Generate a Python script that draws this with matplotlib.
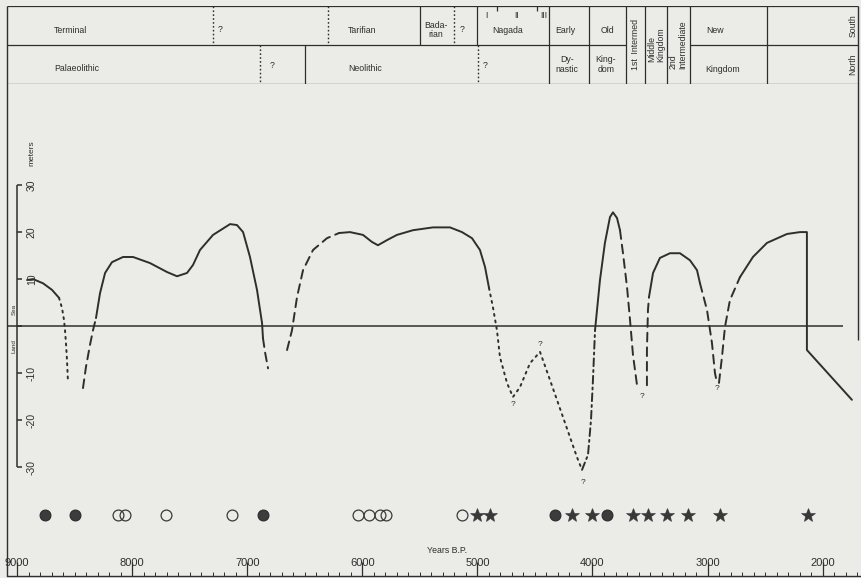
"""Holocene sea-level curve with the Nile valley chronology header."""

import matplotlib

matplotlib.use("Agg")

import matplotlib.pyplot as plt
from matplotlib.ticker import FixedLocator

plt.rcParams["font.family"] = ["Liberation Sans", "DejaVu Sans"]

INK = "#2e2e2e"
PAPER = "#ebebe8"

# ---- sea-level curve, years B.P. against meters, one list pair per stroke ----
seg01_years = [8913, 8861, 8774, 8696, 8635]
seg01_level = [9.8, 10.0, 9.1, 7.7, 6.0]
seg02_years = [8635, 8609, 8592, 8583, 8574, 8566, 8557]
seg02_level = [6.0, 3.8, 1.3, -0.9, -4.0, -7.2, -12.1]
seg03_years = [8427, 8401, 8366, 8340, 8314]
seg03_level = [-13.2, -8.7, -4.0, -0.9, 1.7]
seg04_years = [8314, 8279, 8235, 8175, 8079, 7992, 7844, 7697, 7610, 7523,
               7471, 7410, 7297, 7149, 7089, 7036, 6976, 6915, 6871, 6863]
seg04_level = [1.7, 7.0, 11.3, 13.6, 14.7, 14.7, 13.4, 11.5, 10.6, 11.3,
               13.0, 16.2, 19.4, 21.7, 21.5, 20.0, 14.7, 7.7, 0.6, -2.6]
seg05_years = [6863, 6845, 6819]
seg05_level = [-2.6, -5.6, -9.0]
seg06_years = [6654, 6611, 6567, 6515, 6428, 6307, 6202]
seg06_level = [-5.1, -0.9, 6.2, 11.9, 16.2, 18.7, 19.8]
seg07_years = [6202, 6107, 5994, 5916, 5864, 5785, 5699, 5560, 5386, 5238,
               5134, 5047, 4978, 4934, 4899]
seg07_level = [19.8, 20.0, 19.4, 17.9, 17.2, 18.3, 19.4, 20.4, 21.0, 21.0,
               20.0, 18.7, 16.2, 12.6, 8.1]
seg08_years = [4899, 4865, 4830, 4804, 4743, 4691, 4630, 4543, 4456, 4369,
               4256, 4135, 4091]
seg08_level = [8.1, 4.0, -0.9, -6.6, -12.1, -15.1, -13.0, -7.9, -5.5, -11.5,
               -19.4, -27.9, -30.6]
seg09_years = [4091, 4039, 4013, 3996, 3978]
seg09_level = [-30.6, -27.4, -20.0, -11.5, -0.9]
seg10_years = [3978, 3935, 3892, 3848, 3822, 3787, 3761]
seg10_level = [-0.9, 9.8, 17.7, 23.2, 24.2, 23.0, 20.4]
seg11_years = [3761, 3735, 3700, 3674, 3648, 3613]
seg11_level = [20.4, 15.5, 8.3, 1.3, -6.2, -12.6]
seg12_years = [3527, 3527, 3518, 3509]
seg12_level = [-12.6, -5.1, 3.4, 6.2]
seg13_years = [3509, 3474, 3414, 3327, 3240, 3153, 3092, 3066]
seg13_level = [6.2, 11.3, 14.5, 15.5, 15.5, 14.0, 11.9, 9.1]
seg14_years = [3066, 3005, 2962, 2936, 2918]
seg14_level = [9.1, 3.4, -3.6, -10.0, -12.1]
seg15_years = [2901, 2875, 2849, 2806, 2719]
seg15_level = [-12.1, -6.6, -0.2, 5.5, 10.4]
seg16_years = [2719, 2606, 2484, 2310, 2197, 2137, 2137, 1746]
seg16_level = [10.4, 14.7, 17.7, 19.6, 20.0, 20.0, -5.1, -15.7]

query_years = [4691, 4456, 4083, 3570, 2918]
query_level = [-16.8, -4.0, -33.4, -15.1, -13.2]

# ---- dated sites along the bottom ----
filled_circle_years = [8760, 8500, 6860, 4330, 3870]
open_circle_years = [8120, 8060, 7710, 7130, 6040, 5940, 5850, 5790, 5130]
star_years = [5000, 4890, 4180, 4000, 3650, 3520, 3350, 3170, 2890, 2130]

# ---- chronology header ----
boundary_full = [4380, 4030, 3710, 3545, 3355, 3155, 2480]
boundary_top_solid = [5500, 5000]
boundary_top_dotted = [7300, 6300, 5200]
boundary_bottom_solid = [6500]
boundary_bottom_dotted = [6890, 4995]
nagada_tick_years = [4830, 4482]

header_text = ["Terminal", "?", "Tarifian", "Bada-\nrian", "?", "Nagada",
               "I", "II", "III", "Early", "Old", "New", "South",
               "Palaeolithic", "?", "Neolithic", "?", "Dy-\nnastic",
               "King-\ndom", "Kingdom", "North",
               "1st  Intermed", "Middle\nKingdom", "2nd\nIntermediate"]
header_year = [8540, 7236, 6003, 5360, 5134, 4734,
               4925, 4656, 4421, 4239, 3874, 2936, 1737,
               8479, 6785, 5977, 4934, 4222,
               3883, 2866, 1737,
               3622, 3448, 3257]
header_row = [0.62, 0.6, 0.62, 0.62, 0.6, 0.64,
              0.24, 0.24, 0.24, 0.62, 0.62, 0.64, 0.5,
              1.6, 1.52, 1.6, 1.52, 1.5,
              1.5, 1.62, 1.5,
              1.0, 1.0, 1.0]
header_rotation = [0] * 12 + [90] + [0] * 7 + [90, 90, 90, 90]

scale_marks = [30, 20, 10, 0, -10, -20, -30]
scale_labels = ["30", "20", "10", "", "-10", "-20", "-30"]
major_years = [9000, 8000, 7000, 6000, 5000, 4000, 3000, 2000]
minor_years = list(range(9000, 1650, -100))

# ---- layout (pixels of the 861x578 page turned into data limits) ----
X_LIMITS = (9148, 1667)
Y_LIMITS = (-53.2, 69.4)
FRAME_LEFT_YEAR = 9087
FRAME_RIGHT_YEAR = 1693
ZERO_LINE_END = 1824
SYMBOL_LEVEL = -40.2

SEGMENT_STYLE = {
    "solid": "-",
    "dashed": (0, (4.5, 3.0)),
    "dotted": (0, (1.0, 2.4)),
    "dashdot": (0, (4.0, 2.0, 1.0, 2.0)),
}

segments = [
    (seg01_years, seg01_level, "solid"),
    (seg02_years, seg02_level, "dotted"),
    (seg03_years, seg03_level, "dashed"),
    (seg04_years, seg04_level, "solid"),
    (seg05_years, seg05_level, "dashed"),
    (seg06_years, seg06_level, "dashed"),
    (seg07_years, seg07_level, "solid"),
    (seg08_years, seg08_level, "dotted"),
    (seg09_years, seg09_level, "dashdot"),
    (seg10_years, seg10_level, "solid"),
    (seg11_years, seg11_level, "dashed"),
    (seg12_years, seg12_level, "dashed"),
    (seg13_years, seg13_level, "solid"),
    (seg14_years, seg14_level, "dashed"),
    (seg15_years, seg15_level, "dashed"),
    (seg16_years, seg16_level, "solid"),
]

fig = plt.figure(figsize=(8.61, 5.78), dpi=100, facecolor=PAPER)
ax = fig.add_axes([0, 2 / 578, 1, 576 / 578], facecolor=PAPER)
ax.set_xlim(*X_LIMITS)
ax.set_ylim(*Y_LIMITS)

for years, level, style in segments:
    ax.plot(years, level, color=INK, lw=1.4, linestyle=SEGMENT_STYLE[style],
            dash_capstyle="round", solid_capstyle="round")
for year, level in zip(query_years, query_level):
    ax.text(year, level, "?", fontsize=6, color=INK, ha="center", va="center")

# sea level zero line and the vertical meter scale
ax.hlines(0, FRAME_LEFT_YEAR, ZERO_LINE_END, color=INK, lw=1.1)
ax.vlines(9000, min(scale_marks), max(scale_marks), color=INK, lw=1.1)
ax.hlines(scale_marks, 9000, 8955, color=INK, lw=1.1)
for mark, label in zip(scale_marks, scale_labels):
    ax.text(8872, mark, label, rotation=90, fontsize=7.5, color=INK,
            ha="center", va="center")
ax.text(8872, 36.8, "meters", rotation=90, fontsize=6, color=INK,
        ha="center", va="center")
ax.text(9025, 3.6, "Sea", rotation=90, fontsize=4.5, color=INK,
        ha="center", va="center")
ax.text(9025, -4.2, "Land", rotation=90, fontsize=4.5, color=INK,
        ha="center", va="center")

# site symbols
ax.plot(star_years, [SYMBOL_LEVEL] * len(star_years), linestyle="none",
        marker="*", markersize=10.5, color="#383838", markeredgewidth=0.4)
ax.plot(open_circle_years, [SYMBOL_LEVEL] * len(open_circle_years),
        linestyle="none", marker="o", markersize=7.8, markerfacecolor="none",
        markeredgecolor="#3a3a3a", markeredgewidth=0.9)
ax.plot(filled_circle_years, [SYMBOL_LEVEL] * len(filled_circle_years),
        linestyle="none", marker="o", markersize=7.8, markerfacecolor="#3c3c3c",
        markeredgecolor="#2a2a2a", markeredgewidth=0.8)

ax.text(5264, -47.7, "Years B.P.", fontsize=6.3, color=INK, ha="center",
        va="center")

# page frame
ax.vlines(FRAME_LEFT_YEAR, Y_LIMITS[0], 68.1, color=INK, lw=1.0)
ax.vlines(FRAME_RIGHT_YEAR, -3.0, 68.1, color=INK, lw=1.0)

# bottom time axis
for side in ("left", "right", "top"):
    ax.spines[side].set_visible(False)
ax.spines["bottom"].set_color(INK)
ax.spines["bottom"].set_linewidth(1.0)
ax.spines["bottom"].set_bounds(FRAME_LEFT_YEAR, X_LIMITS[1])
ax.set_yticks([])
ax.xaxis.set_major_locator(FixedLocator(major_years))
ax.xaxis.set_minor_locator(FixedLocator(minor_years))
ax.set_xticklabels([str(y) for y in major_years])
ax.tick_params(axis="x", which="major", direction="in", length=10, width=0.9,
               color=INK, labelcolor=INK, labelsize=8, pad=-13)
ax.tick_params(axis="x", which="minor", direction="in", length=3, width=0.7,
               color=INK)

# chronology header
hx = fig.add_axes([0, 1 - 84 / 578, 1, 78 / 578], sharex=ax)
hx.patch.set_visible(False)
hx.set_ylim(2, 0)
hx.axis("off")

line_kw = dict(color=INK, lw=0.9)
dot_kw = dict(color=INK, lw=1.0, linestyles=[(0, (1.2, 1.6))])
hx.hlines([0, 2], FRAME_LEFT_YEAR, FRAME_RIGHT_YEAR, **line_kw)
hx.hlines(1, FRAME_LEFT_YEAR, boundary_full[2], **line_kw)
hx.hlines(1, boundary_full[5], FRAME_RIGHT_YEAR, **line_kw)
hx.vlines(boundary_full, 0, 2, **line_kw)
hx.vlines(boundary_top_solid, 0, 1, **line_kw)
hx.vlines(boundary_bottom_solid, 1, 2, **line_kw)
hx.vlines(boundary_top_dotted, 0, 1, **dot_kw)
hx.vlines(boundary_bottom_dotted, 1, 2, **dot_kw)
hx.vlines(nagada_tick_years, 0, 0.12, **line_kw)

for text, year, row, rot in zip(header_text, header_year, header_row,
                                header_rotation):
    hx.text(year, row, text, rotation=rot, fontsize=6.3, color=INK,
            ha="center", va="center", linespacing=1.05,
            multialignment="left" if rot else "center")

fig.savefig("out.png", dpi=100, facecolor=PAPER)
